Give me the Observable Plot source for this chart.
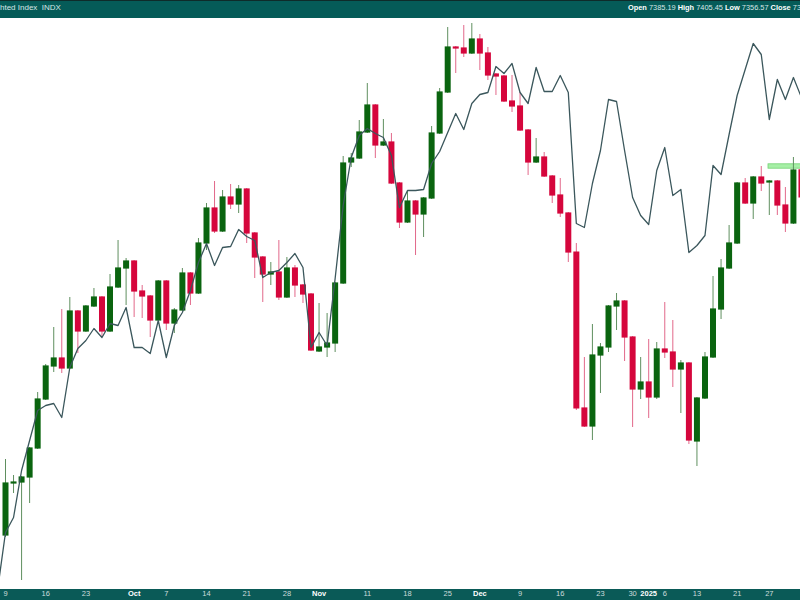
<!DOCTYPE html>
<html><head><meta charset="utf-8">
<script src="https://cdn.jsdelivr.net/npm/d3@7"></script>
<script src="https://cdn.jsdelivr.net/npm/@observablehq/plot@0.6"></script>
<style>
html,body{margin:0;padding:0;background:#fff;overflow:hidden;width:800px;height:600px;}
#hdr{position:relative;width:800px;height:18px;background:#055b58;border-top:1px solid #0e2b2a;box-sizing:border-box;font-family:"Liberation Sans",Arial,sans-serif;font-size:7.4px;color:#d8e6e6;overflow:hidden;white-space:nowrap;}
#hdr .l{position:absolute;left:0;top:2px;font-size:8px;}
#hdr .r{position:absolute;left:628px;top:2px;}
#hdr b{color:#fff}
#chart svg{display:block}
</style></head><body>
<div id="hdr"><span class="l" id="title"></span><span class="r" id="ohlc"></span></div>
<div id="chart"></div>
<script>
// ---- data (trading-day index 0 = 9 Sep 2024) ----
const seriesName = "hted Index\u00a0 INDX";
const open = [7020,7072,7073,7078,7107,7156,7189,7197,7187,7244,7224,7249,7258,7224,7268,7287,7294,7264,7259,7235,
7274,7232,7245,7282,7262,7312,7347,7324,7358,7351,7366,7322,7298,7281,7283,7258,7287,7270,7261,7204,
7208,7212,7272,7393,7397,7423,7450,7410,7413,7372,7333,7354,7341,7357,7422,7463,7508,7507,7502,7516,
7502,7481,7479,7454,7449,7425,7393,7398,7379,7360,7342,7303,7147,7129,7200,7208,7249,7254,7218,7166,
7173,7158,7206,7203,7186,7192,7114,7157,7198,7246,7287,7312,7372,7352,7378,7373,7374,7350,7332,7385.19];
const high = [7096,7080,7079,7108,7163,7191,7228,7246,7258,7245,7250,7267,7259,7281,7315,7297,7295,7270,7260,7275,
7275,7247,7287,7283,7317,7352,7374,7365,7371,7370,7367,7323,7299,7293,7315,7298,7290,7271,7262,7252,
7242,7273,7399,7402,7435,7472,7451,7436,7422,7373,7364,7355,7358,7429,7467,7528,7509,7530,7532,7521,
7508,7482,7480,7480,7463,7426,7417,7403,7380,7377,7343,7312,7198,7231,7212,7250,7262,7255,7219,7198,
7216,7213,7253,7235,7195,7193,7158,7203,7279,7296,7330,7373,7377,7379,7389,7375,7375,7368,7398,7405.45];
const low = [7018,7062,6975,7052,7106,7155,7183,7182,7186,7202,7223,7248,7218,7223,7267,7250,7238,7237,7218,7234,
7225,7222,7244,7250,7261,7305,7322,7323,7346,7342,7312,7277,7253,7270,7255,7257,7258,7252,7204,7203,
7198,7203,7271,7388,7396,7422,7397,7409,7371,7327,7332,7300,7318,7356,7421,7462,7482,7498,7501,7485,
7475,7460,7453,7443,7424,7380,7392,7378,7352,7338,7293,7145,7128,7115,7162,7203,7225,7194,7128,7156,
7137,7156,7197,7168,7142,7111,7089,7156,7197,7236,7286,7311,7351,7336,7364,7340,7340,7323,7331,7356.57];
const close = [7072,7073,7078,7107,7156,7189,7197,7187,7244,7224,7249,7258,7224,7268,7287,7294,7264,7259,7235,7274,
7232,7245,7282,7262,7312,7347,7324,7358,7351,7366,7322,7298,7281,7283,7258,7287,7270,7261,7205,7208,
7212,7272,7392,7397,7423,7450,7410,7413,7372,7333,7354,7341,7357,7422,7463,7508,7507,7502,7516,7502,
7480,7479,7454,7449,7425,7393,7398,7379,7360,7342,7303,7147,7129,7200,7208,7249,7254,7218,7166,7173,
7158,7206,7203,7186,7192,7115,7157,7198,7246,7287,7312,7372,7352,7378,7372,7374,7350,7332,7385,7358];
// comparison line, starting at index -1
const compareStart = -1;
const compare = [6965,7023,7038,7085,7115,7145,7150,7152,7138,7188,7207,7215,7227,7218,7232,7230,7248,7208,7208,7202,
7235,7198,7230,7243,7265,7293,7312,7290,7308,7309,7326,7319,7315,7278,7283,7285,7293,7302,7288,7208,
7223,7210,7277,7350,7398,7420,7427,7422,7418,7400,7348,7365,7365,7366,7392,7404,7423,7442,7426,7452,
7461,7463,7489,7482,7492,7463,7452,7488,7464,7464,7480,7463,7332,7328,7372,7405,7456,7454,7405,7358,
7340,7331,7385,7408,7360,7366,7303,7310,7320,7390,7381,7421,7460,7486,7512,7501,7436,7476,7456,7478,7458];
const tickIdx = [0,5,10,16,20,25,30,35,39,45,50,55,59,64,69,74,78,80,82,86,91,95];
const tickLabels = ["9","16","23","Oct","7","14","21","28","Nov","11","18","25","Dec","9","16","23","30","2025","6","13","21","27"];
const boldLabels = ["Oct","Nov","Dec","2025"];
const highlightFrom = 94.9, highlightLevel = 7389;

// ---- header ----
const last = open.length - 1;
document.getElementById("title").textContent = seriesName;
document.getElementById("ohlc").innerHTML =
  `<b>Open</b> ${open[last].toFixed(2)} <b>High</b> ${high[last].toFixed(2)} <b>Low</b> ${low[last].toFixed(2)} <b>Close</b> ${close[last].toFixed(2)}`;

// ---- chart ----
const candles = open.map((o, i) => ({i, o, h: high[i], l: low[i], c: close[i], up: close[i] >= o}));
const ups = candles.filter(d => d.up), downs = candles.filter(d => !d.up);
const lineData = compare.map((v, k) => ({i: k + compareStart, v}));
const hl = [{x1: highlightFrom, x2: last + 1, y: highlightLevel}];

const W = 800, H = 582, MB = 11, step = 8.04, x0 = 5;
const bodyLo = d => Math.min(d.o, d.c) - 0.6, bodyHi = d => Math.max(d.o, d.c) + 0.6;
const plot = Plot.plot({
  width: W, height: H,
  marginTop: 0, marginBottom: MB, marginLeft: 0, marginRight: 0,
  style: {fontFamily: '"Liberation Sans", Arial, sans-serif', fontSize: "7.5px", color: "#cddcdc", background: "transparent"},
  x: {domain: [-x0 / step, (W - x0) / step], ticks: tickIdx, tickFormat: i => tickLabels[tickIdx.indexOf(i)], tickSize: 0, tickPadding: 1, label: null},
  y: {domain: [7555 - 589, 7555 - 18], axis: null},
  marks: [
    Plot.rect(hl, {x1: "x1", x2: "x2", y1: d => d.y - 2.2, y2: d => d.y + 2.2, fill: "#a6efa6", stroke: "#74d274", strokeWidth: 0.8, clip: true}),
    Plot.ruleX(ups, {x: "i", y1: "l", y2: "h", stroke: "#5f8f5f", strokeWidth: 1, clip: true}),
    Plot.ruleX(downs, {x: "i", y1: "l", y2: "h", stroke: "#e2688a", strokeWidth: 1, clip: true}),
    Plot.ruleX(ups, {x: "i", y1: bodyLo, y2: bodyHi, stroke: "#0a640f", strokeWidth: 6, clip: true}),
    Plot.ruleX(downs, {x: "i", y1: bodyLo, y2: bodyHi, stroke: "#d5063c", strokeWidth: 6, clip: true}),
    Plot.line(lineData, {x: "i", y: "v", stroke: "#3b575c", strokeWidth: 1.3, clip: true})
  ]
});
plot.style.background = `linear-gradient(to bottom, #ffffff ${H - MB}px, #0a5a57 ${H - MB}px)`;
d3.select(plot).selectAll("text").each(function () {
  if (boldLabels.includes(this.textContent)) d3.select(this).attr("font-weight", "bold").attr("fill", "#ffffff");
});
document.getElementById("chart").appendChild(plot);
</script>
</body></html>
